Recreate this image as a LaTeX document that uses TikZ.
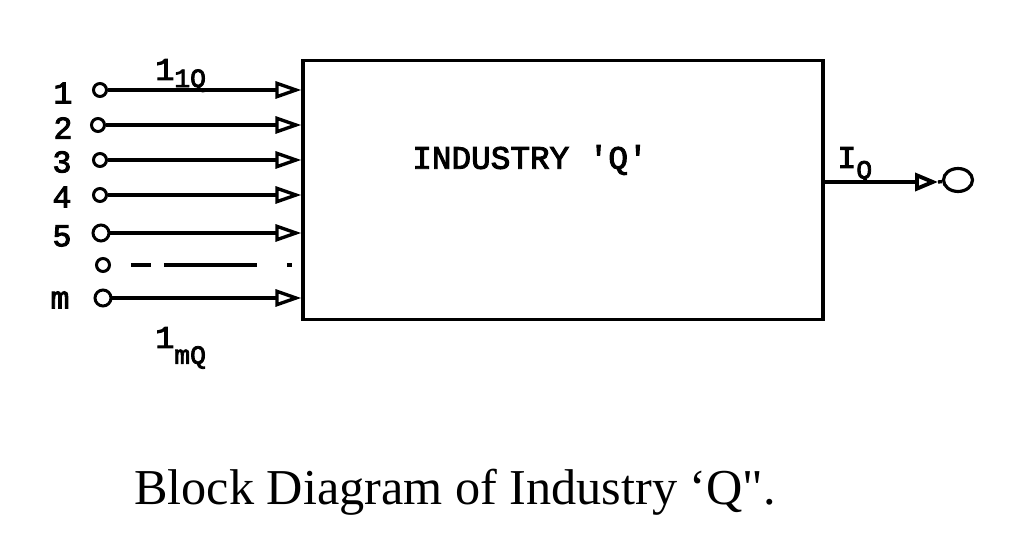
\documentclass[tikz,border=0pt]{standalone}
\usepackage{fontspec}
\setmainfont{Liberation Serif}
\newfontfamily\capfont[Ligatures=ResetAll]{Liberation Serif}
\newfontfamily\tw[FakeBold=3]{Liberation Mono}
\usetikzlibrary{arrows.meta,shapes.geometric}
\begin{document}
\begin{tikzpicture}[x=0.02cm,y=-0.02cm,
  wire/.style={line width=1.9pt},
  term/.style={circle,draw,line width=1.7pt,minimum size=0.26cm,inner sep=0pt},
  bigterm/.style={term,minimum size=0.32cm},
  inarrow/.style={wire,-{Triangle[open,length=0.52cm,width=0.34cm,line width=1.9pt]}},
  lab/.style={font=\tw\fontsize{18}{18}\selectfont,inner sep=0pt},
  blk/.style={draw,line width=1.9pt,minimum width=10.4cm,minimum height=5.18cm,inner sep=0pt}]
\useasboundingbox (0,0) rectangle (1024,560);
\node[blk] (box) at (563,190) {};
\node[font=\tw\fontsize{18.6}{18.6}\selectfont] (title) at (530,160) {INDUSTRY 'Q'};
% inputs
\node[term] (i1) at (100,90) {};
\node[term] (i2) at (98,125) {};
\node[term] (i3) at (100,160) {};
\node[term] (i4) at (100,195) {};
\node[bigterm] (i5) at (101,233) {};
\node[term] (id) at (103,265) {};
\node[bigterm] (im) at (103,298) {};
\coordinate (dend) at (292,265);
\foreach \n in {1,2,3,4,5,m}{
  \draw[inarrow] (i\n) -- (i\n -| box.west);
}
\draw[wire,dash pattern=on 0pt off 0.4cm on 0.4cm off 0.26cm on 1.86cm off 0.6cm on 0.14cm off 1cm] (id) -- (dend);
% input labels
\node[lab] (l1) at (63,93) {1};
\node[lab] (l2) at (63,128) {2};
\node[lab] (l3) at (62,162) {3};
\node[lab] (l4) at (62,197) {4};
\node[lab] (l5) at (62,236) {5};
\node[lab] (lm) at (60,300) {m};
\node[lab,anchor=base west] (t1) at (155,80) {1\raisebox{-4pt}{\fontsize{15}{15}\selectfont 1Q}};
\node[lab,anchor=base west] (tm) at (155,348) {1\raisebox{-9pt}{\fontsize{15}{15}\selectfont mQ}};
% output
\node[ellipse,draw,line width=1.8pt,minimum width=0.58cm,minimum height=0.46cm,inner sep=0pt] (out) at (958,180) {};
\coordinate (oa) at (938,182);
\draw[wire,-{Triangle[open,length=0.46cm,width=0.36cm,line width=2.2pt]}] (box.east |- oa) -- (oa);
\draw[wire] (oa) -- (out);
\node[lab,anchor=base west] (IQ) at (837,168) {I\raisebox{-6pt}{\fontsize{15}{15}\selectfont Q}};
% caption
\node[font=\capfont\fontsize{28.6}{28.6}\selectfont] (cap) at (455,492) {Block Diagram of Industry ‘Q".};
\end{tikzpicture}
\end{document}
